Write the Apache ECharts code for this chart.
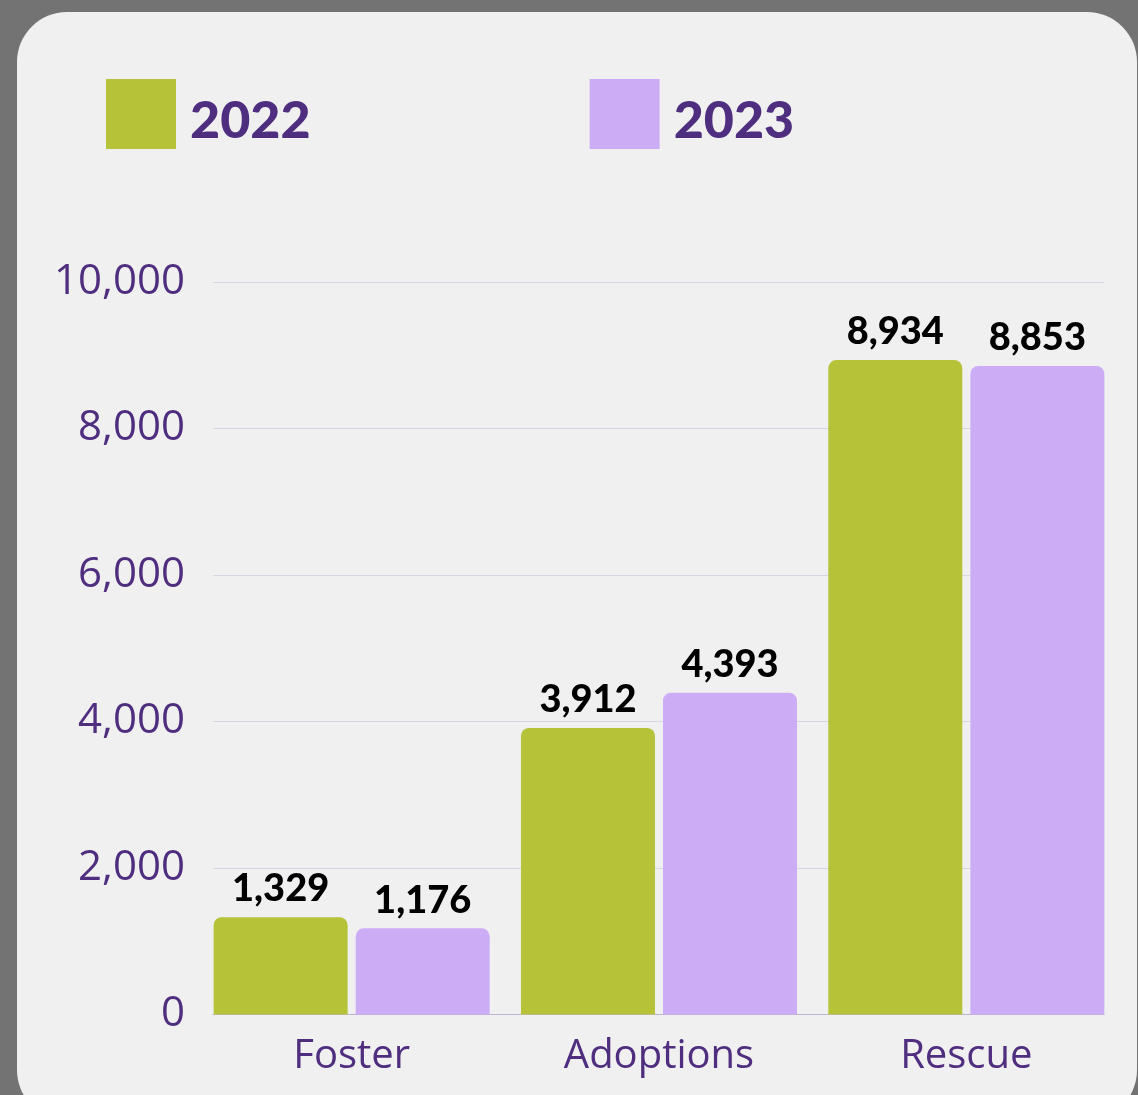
<!DOCTYPE html>
<html>
<head>
<meta charset="utf-8">
<script src="https://cdn.jsdelivr.net/npm/echarts@6/dist/echarts.min.js"></script>
<style>
  html, body { margin: 0; padding: 0; background: #737373; }
  #chart { width: 1138px; height: 1095px; }
</style>
</head>
<body>
<div id="chart"></div>
<script>
// data
const categories = ['Foster', 'Adoptions', 'Rescue'];
const seriesNames = ['2022', '2023'];
const values2022 = [1329, 3912, 8934];
const values2023 = [1176, 4393, 8853];
const yTicks = [0, 2000, 4000, 6000, 8000, 10000];

const purple = '#4f2d7f';
const green = '#b6c238';
const lilac = '#cdacf6';

const chart = echarts.init(document.getElementById('chart'));

const fmt = v => v.toLocaleString('en-US');

const barLabel = {
    show: true,
    position: 'top',
    distance: 9,
    formatter: p => fmt(p.value),
    fontFamily: 'Lato',
    fontWeight: 900,
    fontSize: 38,
    color: '#000'
};

chart.setOption({
    backgroundColor: '#737373',
    animation: false,
    graphic: [{
        type: 'rect',
        z: -10,
        silent: true,
        shape: { x: 17, y: 12, width: 1120, height: 1108, r: 50 },
        style: { fill: '#f0f0f0' }
    }],
    legend: {
        data: seriesNames,
        left: 101,
        top: 74,
        icon: 'rect',
        itemWidth: 70,
        itemHeight: 70,
        itemGap: 279,
        formatter: '{t|{name}}',
        textStyle: {
            rich: {
                t: {
                    fontFamily: 'Lato',
                    fontWeight: 900,
                    fontSize: 52,
                    color: purple,
                    padding: [14, 0, 0, 9]
                }
            }
        }
    },
    grid: [
        // bars
        { left: 198, right: 18, top: 282, bottom: 80.5 },
        // gridlines + y labels
        { left: 213, right: 34, top: 282, bottom: 80.5 }
    ],
    xAxis: [{
        gridIndex: 0,
        type: 'category',
        data: categories,
        axisLine: { show: false },
        axisTick: { show: false },
        axisLabel: {
            margin: 22,
            fontFamily: 'Open Sans',
            fontSize: 40,
            color: purple
        }
    }, {
        gridIndex: 1,
        type: 'value',
        min: 0,
        max: 1,
        axisLine: { show: true, lineStyle: { color: '#bdb6d2', width: 1 } },
        axisTick: { show: false },
        axisLabel: { show: false },
        splitLine: { show: false }
    }],
    yAxis: [{
        gridIndex: 0,
        type: 'value',
        min: 0,
        max: 10000,
        interval: 2000,
        show: false,
        splitLine: { show: false }
    }, {
        gridIndex: 1,
        type: 'value',
        min: yTicks[0],
        max: yTicks[yTicks.length - 1],
        interval: 2000,
        axisLine: { show: false },
        axisTick: { show: false },
        axisLabel: {
            margin: 28,
            fontFamily: 'Open Sans',
            fontSize: 42,
            color: purple,
            formatter: v => fmt(v)
        },
        splitLine: { lineStyle: { color: '#d8d5e2', width: 1 } }
    }],
    series: [{
        name: seriesNames[0],
        type: 'bar',
        xAxisIndex: 0,
        yAxisIndex: 0,
        data: values2022,
        barWidth: 134,
        barGap: '6%',
        itemStyle: { color: green, borderRadius: [8, 8, 0, 0] },
        label: barLabel
    }, {
        name: seriesNames[1],
        type: 'bar',
        xAxisIndex: 0,
        yAxisIndex: 0,
        data: values2023,
        barWidth: 134,
        barGap: '6%',
        itemStyle: { color: lilac, borderRadius: [8, 8, 0, 0] },
        label: barLabel
    }]
});
</script>
</body>
</html>
